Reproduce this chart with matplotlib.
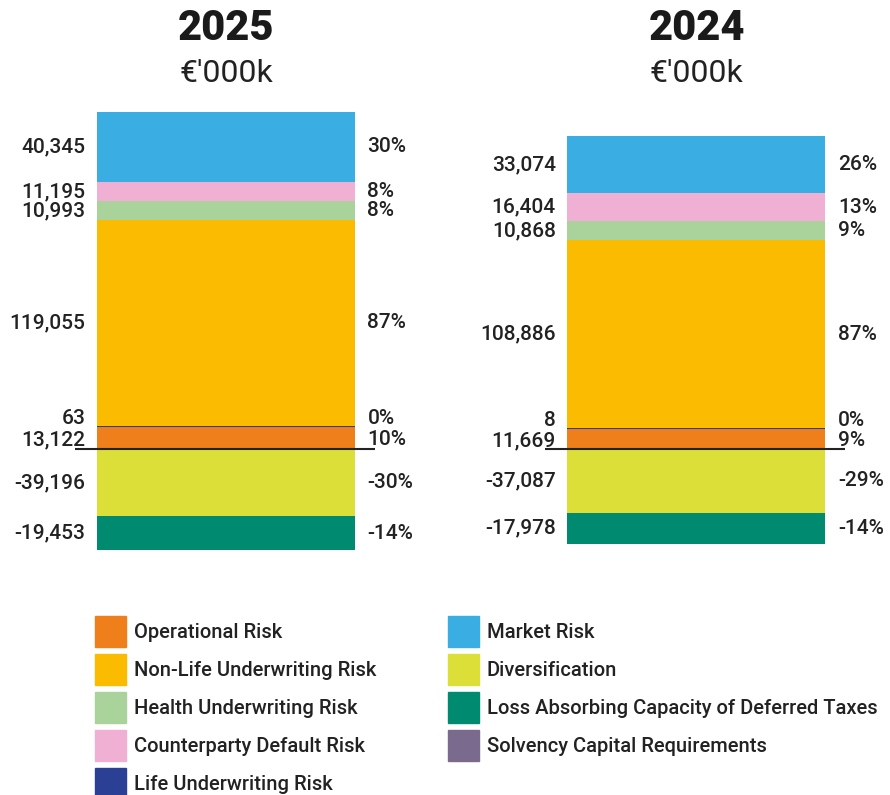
import matplotlib
matplotlib.use("Agg")
import matplotlib.pyplot as plt
from matplotlib.patches import Rectangle

plt.rcParams['font.family'] = ['Roboto', 'DejaVu Sans']

years = ["2025", "2024"]
unit = "€'000k"

# stacking order: positives upward from zero, negatives downward
positive_risks = ["Operational Risk", "Life Underwriting Risk", "Non-Life Underwriting Risk",
                  "Health Underwriting Risk", "Counterparty Default Risk", "Market Risk"]
negative_risks = ["Diversification", "Loss Absorbing Capacity of Deferred Taxes"]

values_2025 = {"Operational Risk": 13122, "Life Underwriting Risk": 63,
               "Non-Life Underwriting Risk": 119055, "Health Underwriting Risk": 10993,
               "Counterparty Default Risk": 11195, "Market Risk": 40345,
               "Diversification": -39196, "Loss Absorbing Capacity of Deferred Taxes": -19453}
values_2024 = {"Operational Risk": 11669, "Life Underwriting Risk": 8,
               "Non-Life Underwriting Risk": 108886, "Health Underwriting Risk": 10868,
               "Counterparty Default Risk": 16404, "Market Risk": 33074,
               "Diversification": -37087, "Loss Absorbing Capacity of Deferred Taxes": -17978}
pct_2025 = {"Operational Risk": "10%", "Life Underwriting Risk": "0%",
            "Non-Life Underwriting Risk": "87%", "Health Underwriting Risk": "8%",
            "Counterparty Default Risk": "8%", "Market Risk": "30%",
            "Diversification": "-30%", "Loss Absorbing Capacity of Deferred Taxes": "-14%"}
pct_2024 = {"Operational Risk": "9%", "Life Underwriting Risk": "0%",
            "Non-Life Underwriting Risk": "87%", "Health Underwriting Risk": "9%",
            "Counterparty Default Risk": "13%", "Market Risk": "26%",
            "Diversification": "-29%", "Loss Absorbing Capacity of Deferred Taxes": "-14%"}

legend_order = ["Operational Risk", "Non-Life Underwriting Risk", "Health Underwriting Risk",
                "Counterparty Default Risk", "Life Underwriting Risk", "Market Risk",
                "Diversification", "Loss Absorbing Capacity of Deferred Taxes",
                "Solvency Capital Requirements"]

colors = {"Operational Risk": "#EE7F1B", "Life Underwriting Risk": "#2B4095",
          "Non-Life Underwriting Risk": "#FABB00", "Health Underwriting Risk": "#A9D39A",
          "Counterparty Default Risk": "#F0B0D3", "Market Risk": "#3AADE3",
          "Diversification": "#DBDF38", "Loss Absorbing Capacity of Deferred Taxes": "#008A70",
          "Solvency Capital Requirements": "#7A6A8D"}

# small nudges (points) so labels of thin segments don't collide
nudge = {"Life Underwriting Risk": 5.5, "Operational Risk": -1.5}

W, H = 890, 795
fig = plt.figure(figsize=(W / 100, H / 100), dpi=100)
ax = fig.add_axes([0, 0, 1, 1])
ax.set_axis_off()

all_vals = [values_2025, values_2024]
all_pct = [pct_2025, pct_2024]

# map data so the tallest stack spans pixel rows 112..550
top = max(sum(v[k] for k in positive_risks) for v in all_vals) / 1000
bot = min(sum(v[k] for k in negative_risks) for v in all_vals) / 1000
s = (550 - 112) / (top - bot)
ax.set_ylim(bot - (H - 550) / s, top + 112 / s)
gap = 470.5
ax.set_xlim(-226 / gap, (W - 226) / gap)
bw = 258 / gap
txt = '#222222'

for i, (vals, pct) in enumerate(zip(all_vals, all_pct)):
    for group in (positive_risks, negative_risks):
        base = 0
        for name in group:
            v = vals[name] / 1000
            lw = 1.5 if abs(v) < 1 else 0
            ax.bar(i, v, bottom=base, width=bw, color=colors[name],
                   edgecolor=colors[name], linewidth=lw)
            yc = base + v / 2
            dy = nudge.get(name, 0)
            ax.annotate(f"{vals[name]:,}", (i - bw / 2, yc), xytext=(-8.5, dy),
                        textcoords='offset points', ha='right', va='center',
                        fontsize=15, fontweight='medium', color=txt)
            ax.annotate(pct[name], (i + bw / 2, yc), xytext=(9, dy),
                        textcoords='offset points', ha='left', va='center',
                        fontsize=15, fontweight='medium', color=txt)
            base += v
    ax.hlines(0, i - bw / 2 - 22 / gap, i + bw / 2 + 20 / gap, color='#222222', lw=1.5)
    fig.text((226 + i * gap) / W, 1 - 28 / H, years[i], ha='center', va='center',
             fontsize=30, fontweight='black', color='#1a1a1a')
    fig.text((226 + i * gap) / W, 1 - 73 / H, unit, ha='center', va='center',
             fontsize=23, fontweight='normal', color='#222222')

# legend laid out in two columns
for k, name in enumerate(legend_order):
    col, row = divmod(k, 5)
    x0 = [95, 448][col]
    yc = 631 + row * 38
    fig.add_artist(Rectangle((x0 / W, 1 - (yc + 15.5) / H), 31 / W, 31 / H,
                             transform=fig.transFigure, color=colors[name]))
    fig.text((x0 + 39) / W, 1 - (yc + 1) / H, name, ha='left', va='center',
             fontsize=14.5, fontweight='medium', color=txt)

fig.savefig("out.png", dpi=100)
